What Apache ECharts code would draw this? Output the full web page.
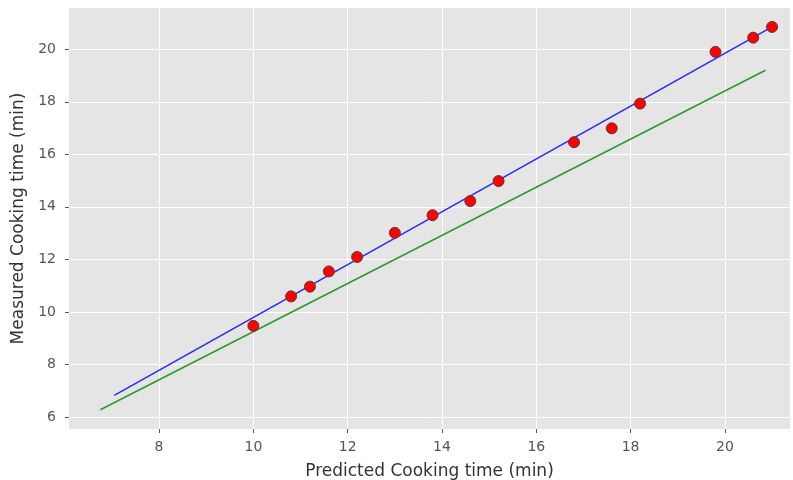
<!DOCTYPE html>
<html>
<head>
<meta charset="utf-8">
<script src="https://cdn.jsdelivr.net/npm/echarts@6/dist/echarts.min.js"></script>
<style>html,body{margin:0;padding:0;background:#fff}#c{width:793px;height:480px}</style>
</head>
<body>
<div id="c"></div>
<script>
// Measured vs predicted points
var predicted = [10.0, 10.8, 11.2, 11.6, 12.2, 13.0, 13.8, 14.6, 15.2, 16.8, 17.6, 18.2, 19.8, 20.6, 21.0];
var measured  = [9.47, 10.59, 10.96, 11.54, 12.09, 13.01, 13.68, 14.22, 14.98, 16.46, 16.99, 17.93, 19.90, 20.44, 20.85];
// Fitted line (blue) endpoints
var fitX = [7.05, 21.0];
var fitY = [6.82, 20.85];
// Reference line (green) endpoints
var refX = [6.755, 20.86];
var refY = [6.27, 19.20];
// Axis ranges
var xRange = [6.09, 21.38];
var yRange = [5.54, 21.57];
var xTicks = [8, 10, 12, 14, 16, 18, 20];
var yTicks = [6, 8, 10, 12, 14, 16, 18, 20];

function zip(a, b) { return a.map(function (v, i) { return [v, b[i]]; }); }

var chart = echarts.init(document.getElementById('c'), null, { renderer: 'canvas' });
var font = 'DejaVu Sans';
chart.setOption({
  animation: false,
  backgroundColor: '#ffffff',
  grid: { left: 69, right: 3, top: 8, bottom: 51, show: true, backgroundColor: '#E5E5E5', borderWidth: 0, containLabel: false, outerBoundsMode: 'none' },
  xAxis: {
    type: 'value', min: xRange[0], max: xRange[1],
    name: 'Predicted Cooking time (min)', nameLocation: 'middle', nameGap: 34,
    nameTextStyle: { fontFamily: font, fontSize: 17, color: '#333' },
    axisLine: { show: false },
    axisTick: { show: true, length: 4, customValues: xTicks, lineStyle: { color: '#555', width: 1 } },
    axisLabel: { fontFamily: font, fontSize: 14, color: '#555', margin: 11, customValues: xTicks },
    splitLine: { show: true, lineStyle: { color: '#ffffff', width: 1 } }
  },
  yAxis: {
    type: 'value', min: yRange[0], max: yRange[1],
    name: 'Measured Cooking time (min)', nameLocation: 'middle', nameGap: 38,
    nameTextStyle: { fontFamily: font, fontSize: 17, color: '#333' },
    axisLine: { show: false },
    axisTick: { show: true, length: 4, customValues: yTicks, lineStyle: { color: '#555', width: 1 } },
    axisLabel: { fontFamily: font, fontSize: 14, color: '#555', margin: 13, customValues: yTicks },
    splitLine: { show: true, lineStyle: { color: '#ffffff', width: 1 } }
  },
  series: [
    {
      type: 'line', data: zip(refX, refY), showSymbol: false, symbol: 'none',
      lineStyle: { color: '#2e9a2e', width: 1.6 }, z: 2
    },
    {
      type: 'line', data: zip(fitX, fitY), showSymbol: false, symbol: 'none',
      lineStyle: { color: '#2a2aff', width: 1.6 }, z: 3
    },
    {
      type: 'scatter', data: zip(predicted, measured), symbol: 'circle', symbolSize: 11,
      itemStyle: { color: '#ff0000', opacity: 1, borderColor: '#5a3a3a', borderWidth: 1 }, z: 4
    }
  ]
});
</script>
</body>
</html>
